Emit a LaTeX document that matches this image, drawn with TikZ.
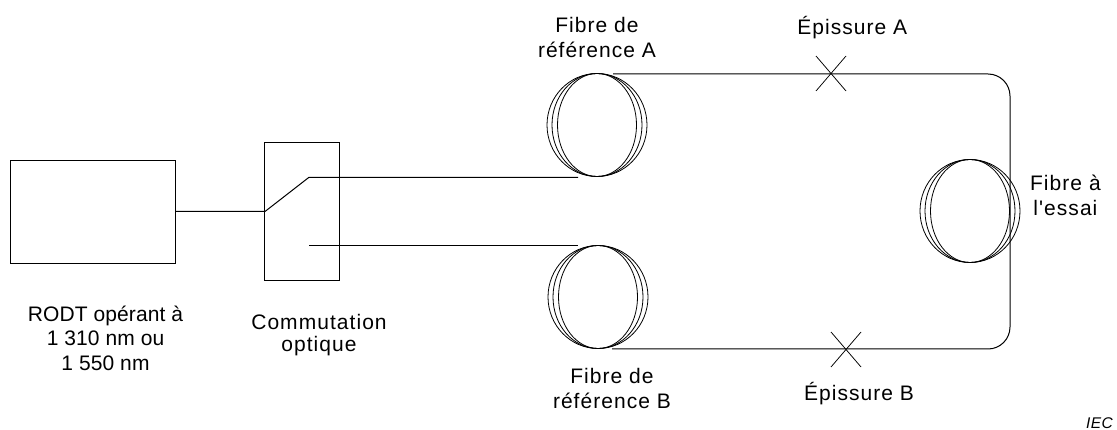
\documentclass[tikz,border=0pt]{standalone}
\usepackage{fontspec}
\newfontfamily\labfont{Liberation Sans}[LetterSpace=5]
\newfontfamily\rodtfont{Liberation Sans}[LetterSpace=0.5]
\newfontfamily\iecfont{Liberation Sans}[LetterSpace=3]
\usetikzlibrary{shapes.geometric}
\tikzset{
  wire/.style={draw=black,line width=1pt},
  thin wire/.style={draw=black,line width=0.75pt},
  boxed/.style={rectangle,draw=black,line width=0.9pt,inner sep=0pt,outer sep=0pt},
  coil1/.style={ellipse,draw=black,line width=0.8pt,inner sep=0pt,outer sep=0pt,minimum width=100pt,minimum height=103pt},
  coil2/.style={coil1,minimum width=90pt},
  coil3/.style={coil1,minimum width=79pt},
  lab/.style={align=center,font=\labfont\fontsize{21}{25}\selectfont,inner sep=0pt},
  labr/.style={align=center,font=\rodtfont\fontsize{21}{24.5}\selectfont,inner sep=0pt},
  small/.style={font=\iecfont\itshape\fontsize{15.5}{18}\selectfont,inner sep=0pt}
}
\begin{document}
\begin{tikzpicture}[x=1pt,y=-1pt]
\useasboundingbox (0,0) rectangle (1117,430);
% equipment
\node[boxed,minimum width=165pt,minimum height=103pt] (rodt) at (92.5,211.5) {};
\node[boxed,minimum width=74.5pt,minimum height=137.5pt] (sw) at (302,211.5) {};
% coils
\foreach \n/\x/\y in {A/597/125,B/598/297,T/970/211}{
  \node[coil1] (coil\n) at (\x,\y) {};
  \node[coil2] (coil\n m) at (\x,\y) {};
  \node[coil3] (coil\n i) at (\x,\y) {};
}
% connector points
\coordinate (pivot) at (265,211.5);
\coordinate (armA) at (309,177.3);
\coordinate (armB) at (309,246);
\coordinate (endA) at (578,177.3);
\coordinate (endB) at (578,246);
\coordinate (startTop) at (613,74);
\coordinate (startBot) at (612,349);
\coordinate (cornerTR) at (1010,74);
\coordinate (cornerBR) at (1010,349);
% wires
\draw[wire] (rodt.east |- pivot) -- (pivot) -- (armA) -- (endA);
\draw[wire] (armB) -- (endB);
\draw[wire,rounded corners=22pt] (startTop) -- (cornerTR) -- (cornerBR) -- (startBot);
% splices
\draw[thin wire] (816,56) -- (846,91) (816,91) -- (846,56);
\draw[thin wire] (831,332) -- (861,367) (831,367) -- (861,332);
% labels
\node[labr] (lrodt) at (105.5,338) {RODT opérant à\\1 310 nm ou\\1 550 nm};
\node[lab,align=center,font=\labfont\fontsize{21}{22.5}\selectfont] (lsw) at (319,335) {Commutation\\optique};
\node[lab] (lA) at (597,37.5) {Fibre de\\référence A};
\node[lab] (lB) at (612,388) {Fibre de\\référence B};
\node[lab] (lsa) at (852.3,28) {Épissure A};
\node[lab] (lsb) at (859,393.5) {Épissure B};
\node[lab] (lT) at (1065.4,195.7) {Fibre à\\l'essai};
\node[small] (iec) at (1099.5,423) {IEC};
\end{tikzpicture}
\end{document}
